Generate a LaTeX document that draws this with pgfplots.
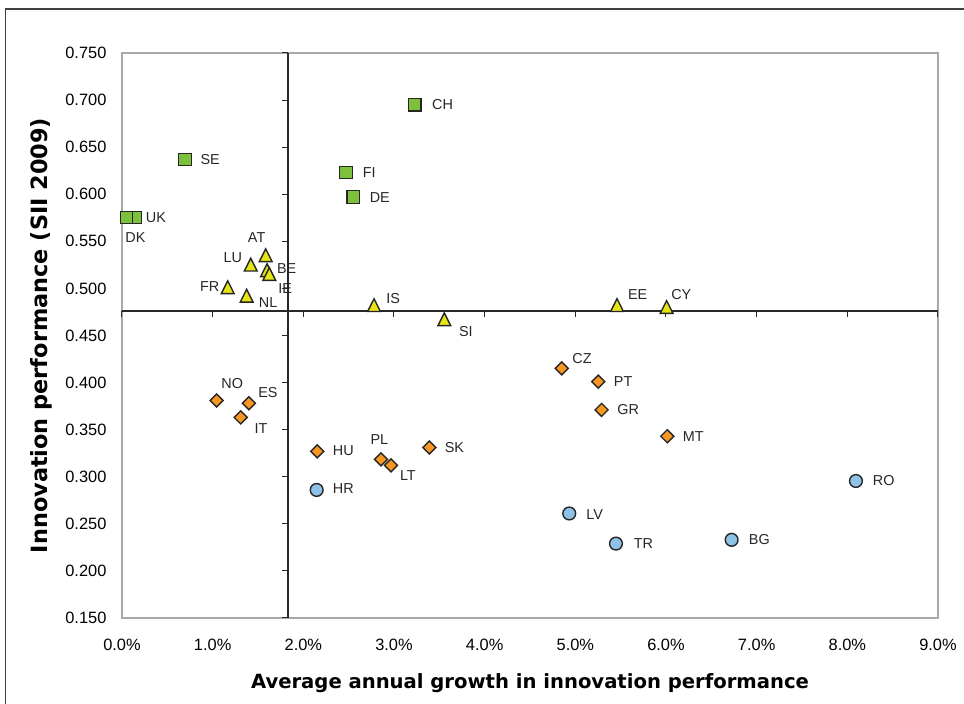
\documentclass[border=0pt]{standalone}
\usepackage{pgfplots}
\pgfplotsset{compat=1.18}
\usepackage{fontspec}
\setmainfont{Liberation Sans}
\newfontfamily\verdana{DejaVu Sans}
\definecolor{cgreen}{RGB}{125,192,60}
\definecolor{cyellow}{RGB}{230,228,20}
\definecolor{corange}{RGB}{246,150,35}
\definecolor{cblue}{RGB}{142,194,230}
\definecolor{cframe}{RGB}{165,170,175}
\definecolor{cline}{RGB}{40,40,40}

\begin{document}
\begin{tikzpicture}
\useasboundingbox (-61pt,-43pt) rectangle (421pt,309pt);
\begin{axis}[
  scale only axis, width=408pt, height=282.5pt,
  xmin=0, xmax=9, ymin=0.15, ymax=0.75,
  xtick={0,1,2,3,4,5,6,7,8,9},
  xticklabels={0.0\%,1.0\%,2.0\%,3.0\%,4.0\%,5.0\%,6.0\%,7.0\%,8.0\%,9.0\%},
  ytick={0.15,0.2,0.25,0.3,0.35,0.4,0.45,0.5,0.55,0.6,0.65,0.7,0.75},
  yticklabels={0.150,0.200,0.250,0.300,0.350,0.400,0.450,0.500,0.550,0.600,0.650,0.700,0.750},
  tick style={draw=none}, major tick length=0pt, tick align=inside,
  axis line style={draw=cframe, line width=0.6pt},
  ticklabel style={font=\fontsize{8.2}{9.6}\selectfont},
  xticklabel style={anchor=north, inner sep=0pt, yshift=-10.5pt},
  yticklabel style={anchor=east, inner sep=0pt, xshift=-7.6pt},
  xlabel={Average annual growth in innovation performance},
  ylabel={Innovation performance (SII 2009)},
  every axis x label/.style={at={(axis description cs:0.5,-0.1244)}, anchor=base,
    font=\verdana\bfseries\fontsize{9.8}{12}\selectfont},
  every axis y label/.style={at={(axis description cs:-0.0907,0.5)}, rotate=90, anchor=base,
    font=\verdana\bfseries\fontsize{11.2}{13}\selectfont},
  clip=false,
  lbls/.style={only marks, nodes near coords, point meta=explicit symbolic,
    visualization depends on={value \thisrow{anc}\as\myanc},
    visualization depends on={value \thisrow{dx}\as\mydx},
    visualization depends on={value \thisrow{dy}\as\mydy},
    every node near coord/.append style={anchor=\myanc, xshift=\mydx*0.5pt, yshift=\mydy*0.5pt,
      inner sep=0pt, font=\fontsize{7.2}{8.6}\selectfont, text=black!85}},
]
\draw[cline, line width=0.65pt] (axis cs:1.83,0.15) -- (axis cs:1.83,0.75);
\draw[cline, line width=0.65pt] (axis cs:0,0.476) -- (axis cs:9,0.476);
\pgfplotsinvokeforeach{0.15,0.2,0.25,0.3,0.35,0.4,0.45,0.5,0.55,0.6,0.65,0.7,0.75}{
  \draw[cline, line width=0.5pt] (axis cs:1.83,#1) -- ++(-3pt,0pt);}
\pgfplotsinvokeforeach{0,1,2,3,4,5,6,7,8,9}{
  \draw[cline, line width=0.5pt] (axis cs:#1,0.476) -- ++(0pt,-3pt);}

\addplot[lbls, mark=square*, mark size=3.1pt,
  mark options={fill=cgreen, draw=black!85, line width=0.6pt}]
  table[x=x, y=y, meta=lbl] {
x y lbl anc dx dy
0.695 0.637 SE west 15 0
0.143 0.5755 UK west 10.3 0
0.05 0.5755 DK west -1.7 -20.7
3.23 0.695 CH west 16.7 0
2.47 0.623 FI west 16.3 0
2.55 0.597 DE west 16 0
};
\addplot[lbls, mark=triangle*, mark size=3.7pt,
  mark options={yscale=1.15, fill=cyellow, draw=black!85, line width=0.7pt}]
  table[x=x, y=y, meta=lbl] {
x y lbl anc dx dy
1.585 0.533 AT east 0.3 20
1.42 0.523 LU east -8 9
1.60 0.517 BE west 9.3 4
1.625 0.513 IE west 8.4 -12.3
1.166 0.499 FR east -7.7 2.6
1.375 0.490 NL west 11.6 -4.6
2.78 0.480 IS west 11.7 8.3
3.555 0.465 SI west 14 -10
5.46 0.480 EE west 10.4 12.3
6.007 0.478 CY west 4 14.3
};
\addplot[lbls, mark=square*, mark size=2.3pt,
  mark options={rotate=45, fill=corange, draw=black!85, line width=0.7pt}]
  table[x=x, y=y, meta=lbl] {
x y lbl anc dx dy
1.044 0.381 NO center 15.6 17.4
1.40 0.378 ES west 8.7 10.6
1.309 0.363 IT west 13.3 -11
2.154 0.327 HU west 15 1
2.857 0.3185 PL center -1.7 19.3
2.967 0.312 LT west 8.3 -10.4
3.39 0.331 SK west 14.7 0
4.85 0.415 CZ west 10 10
5.253 0.401 PT west 15 0
5.29 0.371 GR west 15 0.7
6.014 0.343 MT west 15 0
};
\addplot[lbls, mark=*, mark size=3.2pt,
  mark options={fill=cblue, draw=black!85, line width=0.7pt}]
  table[x=x, y=y, meta=lbl] {
x y lbl anc dx dy
2.147 0.286 HR west 15.6 1
8.095 0.2955 RO west 16.3 0
4.933 0.261 LV west 16.4 -0.7
5.448 0.229 TR west 17.3 0
6.724 0.233 BG west 16.6 0
};
\end{axis}
\draw[black!75, line width=0.75pt] (-58.15pt,-43pt) -- (-58.15pt,304.5pt) -- (421pt,304.5pt);
\end{tikzpicture}
\end{document}
